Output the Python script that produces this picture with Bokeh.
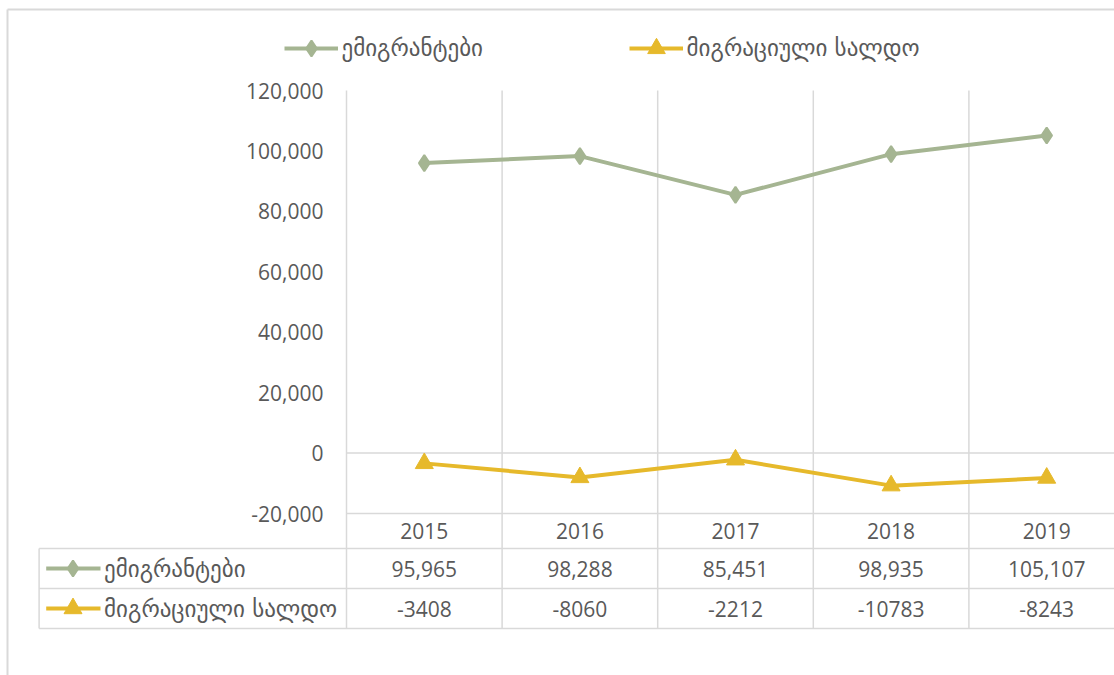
from bokeh.plotting import figure
from bokeh.models import Range1d, FixedTicker, NumeralTickFormatter, Legend, LegendItem
from bokeh.embed import file_html
from bokeh.resources import INLINE
from bokeh.core.properties import value

# ---------------- data ----------------
years = ["2015", "2016", "2017", "2018", "2019"]
emigrants = [95965, 98288, 85451, 98935, 105107]
balance = [-3408, -8060, -2212, -10783, -8243]
series_names = ["ემიგრანტები", "მიგრაციული სალდო"]
y_ticks = [-20000, 0, 20000, 40000, 60000, 80000, 100000, 120000]

# ---------------- style ----------------
GREEN = "#A5B592"
YELLOW = "#E6B92B"
GRID = "#D9D9D9"
TEXT = "#595959"
NUM_FONT = "Open Sans"
GEO_FONT = "DejaVu Sans"
FS = "21px"
GEO_FS = "23px"

# ---------------- layout geometry (pixels) ----------------
W, H = 1114, 675
UNIT = 155.6          # px per category
FL = 346              # left edge of the plotting area
PT, PB = 90, 513      # pixel rows of the top and bottom y ticks
ROW_LINES = [548, 588, 628]   # table rules below the header row
TABLE_L = 38.6
BORDER_X, BORDER_Y = 7, 9

ymin, ymax = y_ticks[0], y_ticks[-1]
px_per = (ymax - ymin) / (PB - PT)

def X(px):
    return 0.5 + (px - FL) / UNIT

def Y(py):
    return ymax - (py - PT) * px_per

xs = list(range(1, len(years) + 1))
x_right = X(W + 20)

p = figure(width=W, height=H,
           x_range=Range1d(X(0), X(W)), y_range=Range1d(Y(H), Y(0)),
           output_backend="svg", toolbar_location=None, min_border=0)
p.outline_line_color = None
p.grid.visible = False
p.xaxis.visible = False

ax = p.yaxis[0]
ax.fixed_location = 0.5
ax.ticker = FixedTicker(ticks=y_ticks)
ax.formatter = NumeralTickFormatter(format="0,0")
ax.axis_line_color = None
ax.major_tick_line_color = None
ax.minor_tick_line_color = None
ax.major_tick_out = 0
ax.major_tick_in = 0
ax.major_label_text_font = NUM_FONT
ax.major_label_text_font_size = FS
ax.major_label_text_color = TEXT
ax.major_label_standoff = 23

# chart outer border (left and top)
p.segment(x0=[X(BORDER_X), X(BORDER_X)], y0=[Y(BORDER_Y), Y(BORDER_Y)],
          x1=[X(BORDER_X), x_right], y1=[Y(H + 20), Y(BORDER_Y)],
          line_color=GRID, line_width=2)

# vertical category rules (chart + table)
vx = [0.5 + i for i in range(len(years) + 1)]
p.segment(x0=vx, y0=[ymax] * len(vx), x1=vx, y1=[Y(ROW_LINES[-1])] * len(vx),
          line_color=GRID, line_width=1.5)
# horizontal rules: value axis at 0, chart bottom, and table rows
p.segment(x0=[0.5, 0.5], y0=[0, ymin], x1=[x_right, x_right], y1=[0, ymin],
          line_color=GRID, line_width=1.5)
ry = [Y(r) for r in ROW_LINES]
p.segment(x0=[X(TABLE_L)] * len(ry), y0=ry, x1=[x_right] * len(ry), y1=ry,
          line_color=GRID, line_width=1.5)
p.segment(x0=[X(TABLE_L)], y0=[ry[0]], x1=[X(TABLE_L)], y1=[ry[-1]],
          line_color=GRID, line_width=1.5)

# series
g_line = p.line(xs, emigrants, line_color=GREEN, line_width=4)
g_mark = p.scatter(xs, emigrants, marker="diamond", size=16, fill_color=GREEN,
                   line_color=GREEN, line_width=2)
y_line = p.line(xs, balance, line_color=YELLOW, line_width=4)
y_mark = p.scatter(xs, balance, marker="triangle", size=18, fill_color=YELLOW,
                   line_color=YELLOW, line_width=1)

# top legend (glyph box tall enough for full-size markers)
LEG_CY = 48
for name, rends, start_px, gh in [(series_names[0], [g_line, g_mark], 283.5, 40),
                                  (series_names[1], [y_line, y_mark], 628.6, 44)]:
    leg = Legend(items=[LegendItem(label=name, renderers=rends)],
                 location=(start_px, H - (LEG_CY + gh / 2)),
                 orientation="horizontal", border_line_color=None,
                 background_fill_alpha=0, padding=0, margin=0, spacing=0,
                 glyph_width=54, glyph_height=gh, label_height=gh, label_standoff=4,
                 label_text_font=GEO_FONT, label_text_font_size=GEO_FS,
                 label_text_color=TEXT, label_text_baseline="middle")
    p.add_layout(leg, "center")

# data table texts
hdr_y = Y((PB + ROW_LINES[0]) / 2)
row_y = [Y((ROW_LINES[i] + ROW_LINES[i + 1]) / 2) for i in range(len(series_names))]
p.text(x=xs, y=[hdr_y] * len(xs), text=years, text_align="center", text_baseline="middle",
       text_font=value(NUM_FONT), text_font_size=FS, text_color=TEXT)
p.text(x=xs, y=[row_y[0]] * len(xs), text=[f"{v:,}" for v in emigrants],
       text_align="center", text_baseline="middle",
       text_font=value(NUM_FONT), text_font_size=FS, text_color=TEXT)
p.text(x=xs, y=[row_y[1]] * len(xs), text=[str(v) for v in balance],
       text_align="center", text_baseline="middle",
       text_font=value(NUM_FONT), text_font_size=FS, text_color=TEXT)

# legend keys inside the table
k0, k1, km, kt = X(45.7), X(100), X(72.5), X(103.6)
p.segment(x0=[k0, k0], y0=row_y, x1=[k1, k1], y1=row_y,
          line_color=[GREEN, YELLOW], line_width=4)
p.scatter(x=[km], y=[row_y[0]], marker="diamond", size=16, fill_color=GREEN,
          line_color=GREEN, line_width=2)
p.scatter(x=[km], y=[row_y[1]], marker="triangle", size=18, fill_color=YELLOW,
          line_color=YELLOW, line_width=1)
p.text(x=[kt, kt], y=row_y, text=series_names, text_align="left", text_baseline="middle",
       text_font=value(GEO_FONT), text_font_size=GEO_FS, text_color=TEXT)

with open("out.html", "w") as f:
    f.write(file_html(p, INLINE))
